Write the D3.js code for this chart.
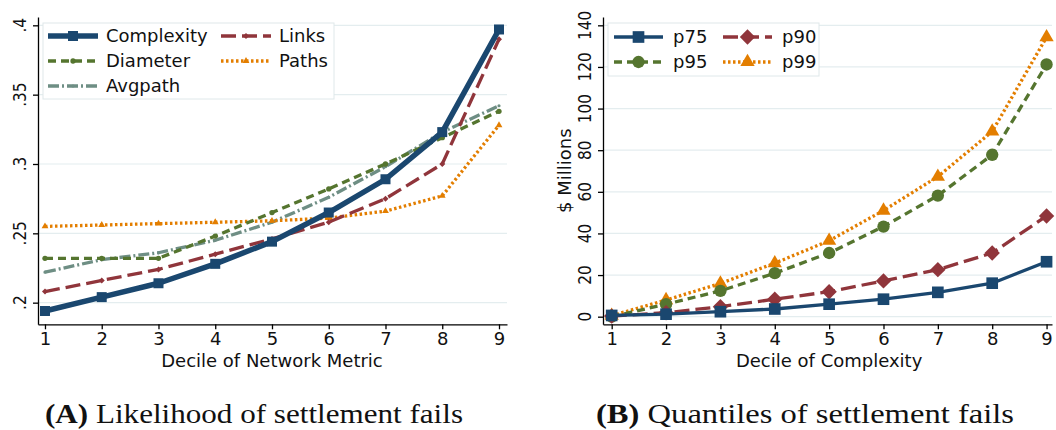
<!DOCTYPE html>
<html>
<head>
<meta charset="utf-8">
<script src="https://cdn.jsdelivr.net/npm/d3@7"></script>
<style>
  html, body { margin: 0; padding: 0; background: #fff; }
  svg { display: block; }
</style>
</head>
<body>
<div id="canvas"></div>
<script>
// ---- data ----
var deciles = [1, 2, 3, 4, 5, 6, 7, 8, 9];

// panel A: likelihood of settlement fails, by decile of each network metric
var complexity = [0.194, 0.204, 0.214, 0.228, 0.244, 0.265, 0.289, 0.323, 0.397];
var links      = [0.208, 0.216, 0.224, 0.235, 0.246, 0.258, 0.275, 0.300, 0.390];
var diameter   = [0.232, 0.232, 0.232, 0.248, 0.265, 0.282, 0.300, 0.319, 0.338];
var paths      = [0.255, 0.256, 0.257, 0.258, 0.259, 0.261, 0.266, 0.277, 0.328];
var avgpath    = [0.222, 0.231, 0.236, 0.245, 0.258, 0.276, 0.298, 0.323, 0.342];
var leftYTicks  = [0.2, 0.25, 0.3, 0.35, 0.4];
var leftYLabels = [".2", ".25", ".3", ".35", ".4"];

// panel B: quantiles of settlement fails ($ millions), by decile of complexity
var p75 = [0.6, 1.2, 2.4, 3.7, 6.0, 8.4, 11.7, 16.1, 26.4];
var p90 = [0.3, 1.9, 4.8, 8.4, 12.0, 17.2, 22.6, 30.6, 48.4];
var p95 = [0.0, 6.0, 12.4, 20.9, 30.6, 43.3, 58.2, 77.8, 121.2];
var p99 = [0.5, 8.0, 16.0, 25.7, 36.5, 51.0, 67.3, 89.0, 134.3];
var rightYTicks = [0, 20, 40, 60, 80, 100, 120, 140];

// ---- styling ----
var navy = "#1a476f", maroon = "#90353b", forest = "#55752f",
    dkorange = "#e37e00", teal = "#6e8e84";
var gridColor = "#e4edef";
var textFont = "DejaVu Sans";
var textSize = 18;

var width = 1056, height = 430;

var svg = d3.select("#canvas").append("svg")
            .attr("width", width)
            .attr("height", height);

// symbol shapes keyed by name
var shapes = {
  square:   { type: d3.symbolSquare, rot: 0 },
  diamond:  { type: d3.symbolSquare, rot: 45 },
  circle:   { type: d3.symbolCircle, rot: 0 },
  triangle: { type: d3.symbolTriangle, rot: 0 }
};

var drawMarker = function(g, cx, cy, s) {
  if (!s.marker) return;
  var sh = shapes[s.marker];
  g.append("path")
   .attr("d", d3.symbol().type(sh.type).size(s.markerSize)())
   .attr("transform", "translate(" + cx + "," + cy + ") rotate(" + sh.rot + ")")
   .attr("fill", s.color);
};

var styleLine = function(sel, s) {
  sel.attr("fill", "none")
     .attr("stroke", s.color)
     .attr("stroke-width", s.width)
     .attr("stroke-dasharray", s.dash || null)
     .attr("stroke-linejoin", "round")
     .attr("stroke-linecap", "butt");
};

var drawPanel = function(p) {
  var x = d3.scaleLinear().domain(p.xDomain).range([p.left, p.right]);
  var y = d3.scaleLinear().domain(p.yDomain).range([p.bottom, p.top]);
  var g = svg.append("g");

  // grid lines
  g.selectAll("line.grid").data(p.yTicks).enter().append("line")
   .attr("x1", p.left).attr("x2", p.right)
   .attr("y1", function(d) { return y(d); })
   .attr("y2", function(d) { return y(d); })
   .attr("stroke", gridColor).attr("stroke-width", 1.2);

  // x axis
  var xa = g.append("g")
            .attr("transform", "translate(0," + p.bottom + ")")
            .call(d3.axisBottom(x).tickValues(deciles).tickSize(5)
                    .tickSizeOuter(0).tickPadding(3).tickFormat(d3.format("d")));
  xa.selectAll("text").attr("font-family", textFont).attr("font-size", textSize)
    .attr("fill", "#111");

  // y axis (labels drawn by hand, rotated)
  var ya = g.append("g")
            .attr("transform", "translate(" + p.left + ",0)")
            .call(d3.axisLeft(y).tickValues(p.yTicks).tickSize(5)
                    .tickSizeOuter(0).tickFormat(""));
  [xa, ya].forEach(function(a) {
    a.select(".domain").attr("stroke", "#000").attr("stroke-width", 1.3);
    a.selectAll(".tick line").attr("stroke", "#000").attr("stroke-width", 1.3);
  });

  p.yTicks.forEach(function(t, i) {
    g.append("text")
     .text(p.yLabels[i])
     .attr("transform", "translate(" + p.yLabelX + "," + y(t) + ") rotate(-90) scale(0.85,1)")
     .attr("text-anchor", "middle")
     .attr("font-family", textFont).attr("font-size", textSize).attr("fill", "#111");
  });

  // axis titles
  g.append("text")
   .text(p.xTitle)
   .attr("x", (x(1) + x(9)) / 2).attr("y", 367)
   .attr("text-anchor", "middle")
   .attr("font-family", textFont).attr("font-size", textSize).attr("fill", "#111");
  if (p.yTitle) {
    g.append("text")
     .text(p.yTitle)
     .attr("transform", "translate(" + p.yTitleX + "," + ((p.top + p.bottom) / 2) + ") rotate(-90)")
     .attr("text-anchor", "middle")
     .attr("font-family", textFont).attr("font-size", textSize).attr("fill", "#111");
  }

  // series, drawn in reverse so the first one sits on top
  var line = d3.line().x(function(d, i) { return x(deciles[i]); })
                      .y(function(d) { return y(d); });
  p.series.slice().reverse().forEach(function(s) {
    styleLine(g.append("path").attr("d", line(s.values)), s);
    s.values.forEach(function(v, i) { drawMarker(g, x(deciles[i]), y(v), s); });
  });

  // legend
  var L = p.legend;
  g.append("rect")
   .attr("x", L.x).attr("y", L.y).attr("width", L.w).attr("height", L.h)
   .attr("fill", "#fff").attr("stroke", "#dfe8ea").attr("stroke-width", 1);
  p.series.forEach(function(s, i) {
    var col = i % 2, row = Math.floor(i / 2);
    var kx = L.keyX[col], ky = L.rowY[row];
    styleLine(g.append("line").attr("x1", kx).attr("x2", kx + L.keyW)
                .attr("y1", ky).attr("y2", ky), s);
    drawMarker(g, kx + L.keyW / 2, ky, s);
    g.append("text")
     .text(s.name)
     .attr("x", kx + L.keyW + L.gap).attr("y", ky)
     .attr("dy", "0.36em")
     .attr("font-family", textFont).attr("font-size", textSize).attr("fill", "#111");
  });
};

// ---- panel A ----
drawPanel({
  left: 38, right: 507, top: 17, bottom: 324.3,
  xDomain: [0.877, 9.141], yDomain: [0.1844, 0.406],
  yTicks: leftYTicks, yLabels: leftYLabels, yLabelX: 26,
  xTitle: "Decile of Network Metric",
  series: [
    { name: "Complexity", values: complexity, color: navy, width: 5.5, marker: "square", markerSize: 100 },
    { name: "Links", values: links, color: maroon, width: 3.3, dash: "15,6", marker: "diamond", markerSize: 18 },
    { name: "Diameter", values: diameter, color: forest, width: 3.3, dash: "8,5", marker: "circle", markerSize: 22 },
    { name: "Paths", values: paths, color: dkorange, width: 3.3, dash: "2.5,2.5", marker: "triangle", markerSize: 20 },
    { name: "Avgpath", values: avgpath, color: teal, width: 3.3, dash: "11,3,2,3", marker: "circle", markerSize: 8 }
  ],
  legend: { x: 43, y: 23, w: 291, h: 76, keyX: [48, 221], keyW: 50, gap: 8, rowY: [36, 61, 86] }
});

// ---- panel B ----
drawPanel({
  left: 603, right: 1052, top: 17, bottom: 324.3,
  xDomain: [0.84, 9.1], yDomain: [-3.66, 144],
  yTicks: rightYTicks, yLabels: rightYTicks.map(String), yLabelX: 591,
  xTitle: "Decile of Complexity",
  yTitle: "$ Millions", yTitleX: 571,
  series: [
    { name: "p75", values: p75, color: navy, width: 3.3, marker: "square", markerSize: 136 },
    { name: "p90", values: p90, color: maroon, width: 3.3, dash: "15,6", marker: "diamond", markerSize: 118 },
    { name: "p95", values: p95, color: forest, width: 3.3, dash: "8,5", marker: "circle", markerSize: 120 },
    { name: "p99", values: p99, color: dkorange, width: 3.3, dash: "2.5,2.5", marker: "triangle", markerSize: 88 }
  ],
  legend: { x: 608, y: 23, w: 211, h: 53, keyX: [614, 723], keyW: 49, gap: 10, rowY: [37, 62] }
});

// ---- captions ----
var captions = [
  { tag: "(A)", text: " Likelihood of settlement fails", cx: 254 },
  { tag: "(B)", text: " Quantiles of settlement fails", cx: 805 }
];
captions.forEach(function(c) {
  var t = svg.append("text")
             .attr("x", c.cx).attr("y", 423)
             .attr("text-anchor", "middle")
             .attr("font-family", "Liberation Serif")
             .attr("font-size", 28)
             .attr("textLength", 418)
             .attr("lengthAdjust", "spacingAndGlyphs")
             .attr("fill", "#111");
  t.append("tspan").attr("font-weight", "bold").text(c.tag);
  t.append("tspan").text(c.text);
});
</script>
</body>
</html>
